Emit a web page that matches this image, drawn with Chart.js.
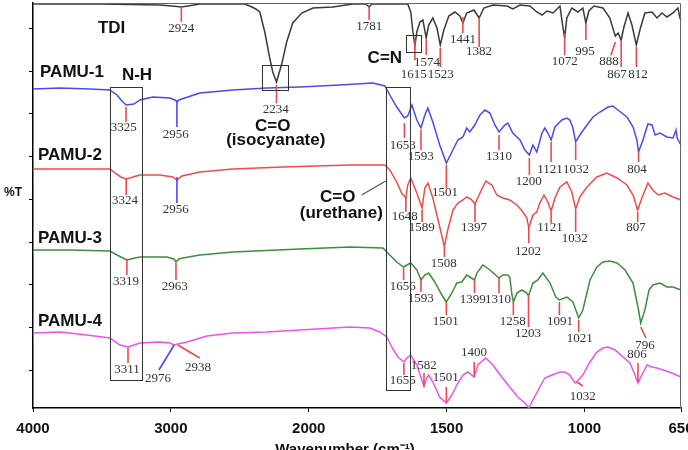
<!DOCTYPE html>
<html><head><meta charset="utf-8">
<script src="https://cdn.jsdelivr.net/npm/chart.js@4.4.1/dist/chart.umd.min.js"></script>
<style>html,body{margin:0;padding:0;background:#fff}canvas{display:block}</style>
</head><body>
<canvas id="c" width="688" height="450"></canvas>
<script>
// ---- axis ticks ----
const xTickValues = [4000, 3000, 2000, 1500, 1000, 650];
const yTickValues = [9.5, 20.2, 30.8, 41.5, 52.2, 62.8, 73.5, 84.2, 94.9];

// ---- spectra (wavenumber cm-1, offset %T) ----
const tdiWn = [4000,3514,3080,2993,2924,2877,2790,2464,2428,2384,2355,2319,2283,2261,2234,2217,2196,2160,2116,2051,1985,1913,1840,1793,1781,1771,1641,1630,1623,1615,1608,1597,1586,1574,1565,1550,1535,1523,1510,1492,1470,1452,1441,1427,1401,1382,1365,1332,1281,1260,1234,1198,1173,1154,1136,1114,1089,1082,1072,1064,1046,1024,1006,995,984,966,933,908,893,888,878,867,857,842,828,812,799,781,755,737,719,701,679,661,654,650];
const tdiT = [101,101,100.75,100.5,100.25,100.5,101,101,100.5,99.75,99,94,87.5,84,81.5,83.5,86,91.5,96.25,98.75,100,100.25,101,101,100.25,101,101,99,94.5,90.5,94,96.5,97,92.5,95.75,97.5,95,90.75,94.5,98,99,98,96.25,98.75,99.5,97.5,100,100.75,100.5,99.75,100.75,100.5,99,98.25,99.25,98.75,100.5,97,92.5,97.5,100,99,100,96.25,99.25,100.5,100,97.5,94,93,93.75,92,95.25,98.75,95.75,90.75,94.5,98.75,99,97.5,98.75,97.75,98.75,100,97.5,97];

const pamu1Wn = [4000,3804,3587,3442,3391,3355,3325,3268,3225,3130,3007,2971,2956,2942,2899,2790,2551,2304,2065,1887,1768,1724,1706,1681,1653,1641,1626,1608,1593,1579,1568,1550,1525,1501,1481,1459,1441,1427,1416,1398,1379,1361,1343,1325,1310,1289,1278,1260,1234,1216,1200,1187,1173,1154,1144,1133,1121,1107,1082,1064,1053,1042,1032,1017,991,969,944,915,897,879,846,824,810,804,788,770,755,744,726,701,679,668,664,650];
const pamu1T = [79.75,80,79.75,79.5,78.25,76.75,75.75,76,77,77.75,77.5,77,76.5,77,77.5,78.75,79.5,80,80.25,80.75,81.25,80.5,78.25,75.25,72.5,73,75.75,72,70,73.25,75,71.5,65.75,61.25,64,67,67.75,70,69,70.75,73.25,74.5,73.75,70.75,69,70.75,71.25,68.75,67,64.5,63.25,65.75,64,68.75,70,68.75,67,70.25,72,72.5,72,70,66.5,68.25,70.75,72.75,74,75.25,75.5,74.5,72.75,70.25,67,64,67,71,70.75,68.25,68.75,67.75,67.5,69.5,67.5,65.75];

const pamu2Wn = [4000,3732,3442,3406,3362,3324,3275,3225,3080,2986,2956,2920,2790,2551,2188,1851,1724,1706,1681,1663,1648,1641,1630,1608,1589,1579,1568,1550,1525,1508,1496,1477,1459,1441,1427,1412,1397,1379,1358,1336,1318,1296,1271,1245,1223,1209,1202,1187,1173,1162,1147,1133,1121,1107,1089,1064,1046,1032,1017,991,955,919,882,846,824,807,792,770,752,733,708,679,650];
const pamu2T = [59.75,59.75,59.75,58.75,57.75,57.25,57.75,58.25,58.25,57.75,57,58,59,59.75,60.25,60.75,60.75,59.5,56.5,53.75,52.5,55.75,57.5,53.75,50,55,56.25,52.5,45.25,40.25,44.5,49.5,51.25,52,52.75,52.25,51,53.75,56.75,55.75,53.25,52.5,52,50.75,49,47.5,45,48.25,49,51.25,53.25,51.5,49.25,52.5,55.25,56.5,54,49.75,52.75,55.25,57.75,58.75,57.5,55.75,53.25,49.5,52.5,56.25,54.5,53.25,53.75,52.75,52];

const pamu3Wn = [4000,3732,3442,3391,3319,3261,3225,3029,2978,2963,2942,2913,2790,2551,2065,1851,1731,1706,1681,1656,1644,1630,1608,1593,1579,1565,1543,1517,1501,1481,1463,1445,1427,1399,1390,1369,1343,1310,1296,1278,1271,1263,1258,1245,1227,1209,1203,1187,1169,1151,1125,1104,1091,1064,1042,1021,1006,980,955,933,908,882,853,824,806,796,781,766,752,726,701,679,650];
const pamu3T = [39.5,39.5,39.25,38.25,37,37.5,37.75,37.75,37.25,36.5,37.25,37.5,38.25,39,39.75,40.25,40,38.25,36.5,35.25,35.75,36.25,34.5,32,33.25,33.75,31.5,28.25,26.5,28.75,31.25,31.5,33.25,32,33.75,35.75,34.5,32.5,33.25,33.25,32.75,28.25,26.5,28.75,29.5,28.75,28,31.25,32,33.75,31.25,27.75,27,27.75,26.5,22.5,24.5,32,35.25,36.5,36.75,36.25,34.5,31.25,25.25,21.25,24.5,29.5,30.75,31.25,30.25,30.25,29.5];

const pamu4Wn = [4000,3804,3609,3442,3370,3311,3225,3080,3007,2976,2950,2884,2739,2551,2304,2065,1851,1779,1742,1717,1699,1677,1655,1644,1630,1608,1590,1582,1572,1565,1550,1525,1501,1481,1459,1441,1423,1400,1387,1358,1332,1300,1271,1242,1216,1202,1187,1162,1144,1118,1089,1071,1053,1042,1032,1006,980,955,933,915,889,860,835,817,806,792,773,755,737,715,683,650];
const pamu4T = [18.75,19,18.25,17.5,15.75,15.25,16.25,16.5,16.25,15.75,16,16.5,18,18.75,19,19.5,20.25,20,19,17.75,15.25,12.75,11.5,12.5,13.25,10.75,7,5.5,7.5,8.25,6.5,2.75,1.25,3.25,6.25,8.25,9,7.75,10.75,12.5,10.75,7.75,5.25,2.75,1.25,0,2,5.25,7.5,8.25,9,9,8.25,7,6.25,8.25,11.5,14,15,15.25,14.5,12.75,11.25,8.25,6.25,8.25,10.75,10.25,10,9.5,8.75,7.75];

const seriesNames = ['TDI', 'PAMU-1', 'PAMU-2', 'PAMU-3', 'PAMU-4'];

// ---- peak annotations: label, peak wavenumber, line top/bottom (%T), label position ----
const tdiPeaks = [
 {t:'2924', w:2924, y1:100.25, y2:96.5, lx:2924, ly:94.75},
 {t:'1781', w:1781, y1:100.25, y2:97, lx:1781, ly:95.25},
 {t:'1574', w:1574, y1:92, y2:88.25, lx:1571, ly:86.25},
 {t:'1615', w:1615, y1:92, y2:87, lx:1619, ly:83.25},
 {t:'1523', w:1523, y1:90, y2:85.25, lx:1521, ly:83.25},
 {t:'1441', w:1441, y1:97.75, y2:93.75, lx:1441, ly:92},
 {t:'1382', w:1382, y1:97.5, y2:90.25, lx:1383, ly:89},
 {t:'1072', w:1072, y1:93.75, y2:88.25, lx:1072, ly:86.5},
 {t:'995', w:995, y1:96.25, y2:92, lx:998, ly:89},
 {t:'888', w:888, y1:91.5, y2:88.25, w2:904, lx:911, ly:86.5},
 {t:'867', w:867, y1:92, y2:85.25, lx:882, ly:83.25},
 {t:'812', w:812, y1:90.25, y2:85.25, lx:806, ly:83.25}
];
const pamu1Peaks = [
 {t:'3325', w:3325, y1:75.25, y2:71.5, lx:3341, ly:70},
 {t:'2956', w:2956, y1:77, y2:70.25, lx:2964, ly:68.25, blue:true},
 {t:'2234', w:2234, y1:80.75, y2:76.25, lx:2239, ly:74.5},
 {t:'1653', w:1653, y1:71.25, y2:67.5, lx:1659, ly:65.5},
 {t:'1593', w:1593, y1:69.5, y2:64.5, lx:1594, ly:62.75},
 {t:'1501', w:1501, y1:60.75, y2:55, lx:1506, ly:53.75},
 {t:'1310', w:1310, y1:68.25, y2:64.5, lx:1310, ly:62.75},
 {t:'1200', w:1200, y1:62.5, y2:58.25, lx:1202, ly:56.5},
 {t:'1121', w:1121, y1:66.5, y2:61.5, lx:1125, ly:59.5},
 {t:'1032', w:1032, y1:66.25, y2:62, lx:1031, ly:59.5},
 {t:'804', w:804, y1:64, y2:61.5, lx:810, ly:59.5}
];
const pamu2Peaks = [
 {t:'3324', w:3324, y1:57.25, y2:53.25, lx:3333, ly:51.75},
 {t:'2956', w:2956, y1:57.75, y2:51.25, lx:2964, ly:49.5, blue:true},
 {t:'1648', w:1648, y1:52.75, y2:49, lx:1652, ly:47.75},
 {t:'1589', w:1589, y1:49.5, y2:46.5, lx:1590, ly:45},
 {t:'1508', w:1508, y1:40.25, y2:37.75, lx:1510, ly:36},
 {t:'1397', w:1397, y1:51.25, y2:46.5, lx:1401, ly:45},
 {t:'1202', w:1202, y1:45, y2:41.25, lx:1205, ly:39},
 {t:'1121', w:1121, y1:49, y2:46.25, lx:1125, ly:45},
 {t:'1032', w:1032, y1:49.5, y2:44, lx:1035, ly:42.25},
 {t:'807', w:807, y1:49, y2:46.5, lx:813, ly:45}
];
const pamu3Peaks = [
 {t:'3319', w:3319, y1:37, y2:33.25, lx:3326, ly:31.5},
 {t:'2963', w:2963, y1:36.25, y2:32, lx:2971, ly:30.25},
 {t:'1656', w:1656, y1:35, y2:32, lx:1659, ly:30.25},
 {t:'1593', w:1593, y1:32, y2:29, lx:1594, ly:27.25},
 {t:'1501', w:1501, y1:26.5, y2:23.25, lx:1503, ly:21.5},
 {t:'1399', w:1399, y1:32, y2:28.75, lx:1405, ly:27},
 {t:'1310', w:1310, y1:32.5, y2:28.75, lx:1314, ly:27},
 {t:'1258', w:1258, y1:26.5, y2:23.25, lx:1260, ly:21.5},
 {t:'1203', w:1203, y1:28.25, y2:20.25, lx:1205, ly:18.5},
 {t:'1091', w:1091, y1:26.5, y2:23.25, lx:1089, ly:21.5},
 {t:'1021', w:1021, y1:22, y2:19, lx:1017, ly:17.25},
 {t:'796', w:796, y1:20.25, y2:17.5, w2:777, lx:781, ly:15.5}
];
const pamu4Peaks = [
 {t:'3311', w:3311, y1:15, y2:11.25, lx:3319, ly:9.5},
 {t:'2976', w:2976, y1:15.75, y2:9.5, w2:3087, lx:3094, ly:7.25, blue:true},
 {t:'2938', w:2950, y1:15.75, y2:12.5, w2:2790, lx:2804, ly:10},
 {t:'1655', w:1655, y1:11.25, y2:8.25, lx:1659, ly:6.75},
 {t:'1582', w:1582, y1:8.75, y2:5.25, lx:1583, ly:10.5},
 {t:'1501', w:1501, y1:5.25, y2:1.5, lx:1503, ly:7.5},
 {t:'1400', w:1400, y1:11.5, y2:7.75, lx:1401, ly:13.75},
 {t:'1032', w:1027, y1:6.5, y2:5.5, w2:1006, lx:1006, ly:2.75},
 {t:'806', w:806, y1:11.25, y2:6.5, lx:810, ly:13.25}
];

// ---- bold text labels, boxes, leader line ----
const textLabels = [
 {t:'TDI', w:3529, v:95, align:'left'},
 {t:'PAMU-1', w:3949, v:84, align:'left'},
 {t:'N-H', w:3355, v:83.25, align:'left'},
 {t:'PAMU-2', w:3964, v:63.25, align:'left'},
 {t:'PAMU-3', w:3964, v:42.5, align:'left'},
 {t:'PAMU-4', w:3964, v:21.75, align:'left'},
 {t:'C=N', w:1724, v:87.5, align:'center'},
 {t:'C=O', w:2261, v:70.5, align:'center'},
 {t:'(isocyanate)', w:2239, v:67, align:'center'},
 {t:'C=O', w:1895, v:52.75, align:'center'},
 {t:'(urethane)', w:1882, v:48.75, align:'center'}
];
const boxes = [
 {w1:3442, w2:3210, v1:80.25, v2:7},
 {w1:2341, w2:2152, v1:85.75, v2:79.5},
 {w1:1648, w2:1594, v1:93.25, v2:89},
 {w1:1721, w2:1633, v1:80.25, v2:4.5}
];
const leader = {w1:1808, v1:53.25, w2:1721, v2:56.75};

// ---- custom FTIR axis: scale doubles below 2000 cm-1 ----
class FtirScale extends Chart.LinearScale {
  determineDataLimits() { this.min = 650; this.max = 4000; }
  buildTicks() { return xTickValues.map(v => ({value: v})); }
  _pos(v) { return v >= 2000 ? (4000 - v) : 2000 + 2 * (2000 - v); }
  getPixelForValue(v) { return this.left + this.width * this._pos(v) / 4700; }
  getValueForPixel(p) {
    const d = (p - this.left) / this.width * 4700;
    return d <= 2000 ? 4000 - d : 2000 - (d - 2000) / 2;
  }
}
FtirScale.id = 'ftir';
FtirScale.defaults = Chart.LinearScale.defaults;
Chart.register(FtirScale);

const toPts = (wn, t) => wn.map((w, i) => ({x: w, y: t[i]}));
const colors = ['#3a3a3a', '#4a4af2', '#f24a4a', '#3f8c3f', '#f050f0'];
const seriesData = [[tdiWn, tdiT], [pamu1Wn, pamu1T], [pamu2Wn, pamu2T], [pamu3Wn, pamu3T], [pamu4Wn, pamu4T]];

const annot = {
  id: 'annot',
  afterDatasetsDraw(chart) {
    const {ctx, scales: {x, y}, chartArea: a} = chart;
    const X = w => x.getPixelForValue(w), Y = v => y.getPixelForValue(v);
    ctx.save();
    ctx.strokeStyle = '#666'; ctx.lineWidth = 1;
    ctx.beginPath();
    ctx.moveTo(a.left, a.top + 0.5); ctx.lineTo(a.right - 0.5, a.top + 0.5); ctx.lineTo(a.right - 0.5, a.bottom);
    ctx.stroke();
    ctx.lineWidth = 1.6;
    [tdiPeaks, pamu1Peaks, pamu2Peaks, pamu3Peaks, pamu4Peaks].forEach(list => {
      list.forEach(p => {
        ctx.strokeStyle = p.blue ? '#4a4af2' : '#ec4a4a';
        ctx.beginPath();
        ctx.moveTo(X(p.w), Y(p.y1));
        ctx.lineTo(X(p.w2 !== undefined ? p.w2 : p.w), Y(p.y2));
        ctx.stroke();
      });
    });
    ctx.font = '13px "Liberation Serif"';
    ctx.fillStyle = '#333';
    ctx.textAlign = 'center'; ctx.textBaseline = 'middle';
    [tdiPeaks, pamu1Peaks, pamu2Peaks, pamu3Peaks, pamu4Peaks].forEach(list => {
      list.forEach(p => ctx.fillText(p.t, X(p.lx), Y(p.ly)));
    });
    ctx.strokeStyle = '#333'; ctx.lineWidth = 1;
    boxes.forEach(b => {
      const x1 = Math.round(X(b.w1)) + 0.5, x2 = Math.round(X(b.w2)) + 0.5;
      const y1 = Math.round(Y(b.v1)) + 0.5, y2 = Math.round(Y(b.v2)) + 0.5;
      ctx.strokeRect(x1, y1, x2 - x1, y2 - y1);
    });
    ctx.strokeStyle = '#555'; ctx.lineWidth = 1.2;
    ctx.beginPath(); ctx.moveTo(X(leader.w1), Y(leader.v1)); ctx.lineTo(X(leader.w2), Y(leader.v2)); ctx.stroke();
    ctx.font = 'bold 17px "Liberation Sans"';
    ctx.fillStyle = '#111';
    textLabels.forEach(l => {
      ctx.textAlign = l.align;
      ctx.fillText(l.t, X(l.w), Y(l.v));
    });
    ctx.restore();
  },
  afterDraw(chart) {
    const {ctx} = chart;
    ctx.save();
    ctx.fillStyle = '#111';
    ctx.font = 'bold 12px "Liberation Sans"';
    ctx.textAlign = 'center'; ctx.textBaseline = 'middle';
    ctx.fillText('%T', 13, 193);
    ctx.font = 'bold 15px "Liberation Sans"';
    ctx.fillText('Wavenumber (cm\u207B\u00B9)', 345, 450);
    ctx.restore();
  }
};

new Chart(document.getElementById('c'), {
  type: 'line',
  data: {
    datasets: seriesData.map((s, i) => ({
      label: seriesNames[i],
      data: toPts(s[0], s[1]),
      borderColor: colors[i],
      borderWidth: 1.5,
      pointRadius: 0,
      fill: false,
      tension: 0
    }))
  },
  options: {
    responsive: false,
    animation: false,
    devicePixelRatio: 1,
    layout: {padding: {top: 3, right: 7, left: 0, bottom: 0}},
    plugins: {legend: {display: false}, tooltip: {enabled: false}},
    scales: {
      x: {
        type: 'ftir', position: 'bottom',
        afterFit(s) { s.height = 42; s.paddingLeft = 0; s.paddingRight = 0; },
        grid: {drawOnChartArea: false, tickLength: 4, color: '#000'},
        border: {color: '#000', width: 1.5},
        ticks: {font: {family: 'Liberation Sans', weight: 'bold', size: 15}, color: '#111', padding: 8,
                maxRotation: 0, autoSkip: false, callback: v => String(v)}
      },
      y: {
        type: 'linear', min: 0, max: 101.25,
        afterBuildTicks(s) { s.ticks = yTickValues.map(v => ({value: v})); },
        afterFit(s) { s.width = 33; },
        ticks: {display: false},
        grid: {drawOnChartArea: false, tickLength: 4, color: '#000'},
        border: {color: '#000', width: 1.5}
      }
    }
  },
  plugins: [annot]
});
</script>
</body></html>
